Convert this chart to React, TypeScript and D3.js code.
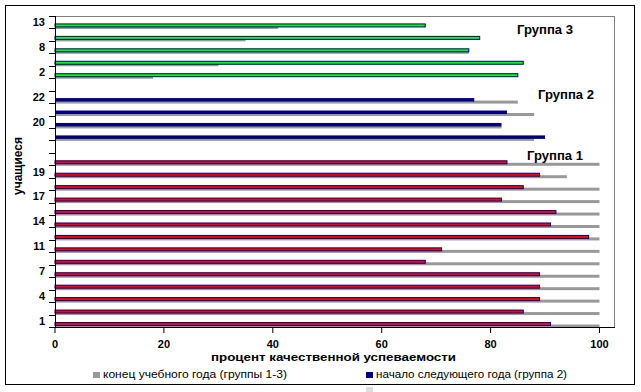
import React from "react";
import * as d3 from "d3";

// values read bottom-to-top inside each group
const group1Students = ["1", "3", "4", "6", "7", "10", "11", "12", "14", "16", "17", "18", "19", "21"];
const group1End = [100, 100, 100, 100, 100, 100, 100, 100, 100, 100, 100, 100, 94, 100];
const group1Next = [91, 86, 89, 89, 89, 68, 71, 98, 91, 92, 82, 86, 89, 83];

const group2Students = ["3", "20", "15", "22"];
const group2End = [88, 82, 88, 85];
const group2Next = [90, 82, 83, 77];

const group3Students = ["2", "5", "8", "10", "13"];
const group3End = [18, 30, 76, 35, 41];
const group3Next = [85, 86, 76, 78, 68];

const groupNames = ["Группа 1", "Группа 2", "Группа 3"];
const xTicks = [0, 20, 40, 60, 80, 100];
const legendLabels = ["конец учебного года (группы 1-3)", "начало следующего года (группа 2)"];

type Row = { label: string; end: number | null; next: number | null; group: number };

const rows: Row[] = [];
const addGroup = (labels: string[], end: number[], next: number[], group: number) => {
  labels.forEach((l, i) => rows.push({ label: l, end: end[i], next: next[i], group }));
};
addGroup(group1Students, group1End, group1Next, 1);
rows.push({ label: "", end: null, next: null, group: 0 });
addGroup(group2Students, group2End, group2Next, 2);
rows.push({ label: "", end: null, next: null, group: 0 });
addGroup(group3Students, group3End, group3Next, 3);

const W = 641;
const H = 392;
const left = 55;
const right = 615;
const top = 16;
const bottom = 327;
const font = "'Liberation Sans', Arial, sans-serif";

const GRAY = "#999999";
const NAVY = "#000080";
const fillFor: Record<number, string> = { 1: "#ff0000", 2: NAVY, 3: "#00ff00" };

export default function App() {
  const x = d3.scaleLinear().domain([0, 100]).range([left, 599.5]);
  const y = d3
    .scaleBand<number>()
    .domain(rows.map((_, i) => i))
    .range([bottom, top]);
  const bw = y.bandwidth();

  return (
    <svg width={W} height={H} style={{ position: "absolute", left: 0, top: 0, background: "#fff" }}>
      <rect x={5.5} y={5.5} width={629} height={379} fill="#fff" stroke="#000" />

      {/* plot frame */}
      <line x1={left} x2={right} y1={top + 0.5} y2={top + 0.5} stroke="#808080" />
      <line x1={right - 0.5} x2={right - 0.5} y1={top} y2={bottom} stroke="#808080" />

      {/* bars */}
      {rows.map((r, i) => {
        if (r.end == null || r.next == null) return null;
        const b = (y(i) as number) + bw;
        const g = r.group;
        return (
          <g key={i}>
            <rect x={left} y={b - 2.5} width={x(r.end) - left} height={3} fill={GRAY} />
            {g === 2 ? (
              <rect x={left} y={b - 5} width={x(r.next) - left} height={3.5} fill={NAVY} />
            ) : (
              <rect
                x={left}
                y={b - 4.5}
                width={x(r.next) - left}
                height={3}
                fill={fillFor[g]}
                stroke={NAVY}
                strokeWidth={1}
              />
            )}
          </g>
        );
      })}

      {/* axes */}
      <line x1={left} x2={right} y1={bottom + 0.5} y2={bottom + 0.5} stroke="#000" />
      <line x1={left + 0.5} x2={left + 0.5} y1={top} y2={bottom + 1} stroke="#000" />
      {xTicks.map((t) => (
        <g key={t}>
          <line x1={x(t)} x2={x(t)} y1={bottom} y2={bottom + 6} stroke="#000" />
          <text
            x={x(t)}
            y={348}
            textAnchor="middle"
            fontFamily={font}
            fontWeight="bold"
            fontSize={11}
          >
            {t}
          </text>
        </g>
      ))}
      {d3.range(rows.length + 1).map((k) => {
        const yy = Math.round(bottom - k * bw) + 0.5;
        return <line key={k} x1={left - 6} x2={left} y1={yy} y2={yy} stroke="#000" />;
      })}
      {rows.map((r, i) =>
        i % 2 === 0 && r.label ? (
          <text
            key={i}
            x={45}
            y={(y(i) as number) + bw / 2 + 4}
            textAnchor="end"
            fontFamily={font}
            fontWeight="bold"
            fontSize={11}
          >
            {r.label}
          </text>
        ) : null
      )}

      {/* titles */}
      <text
        x={211}
        y={361}
        textLength={245}
        lengthAdjust="spacingAndGlyphs"
        fontFamily={font}
        fontWeight="bold"
        fontSize={11.5}
      >
        процент качественной успеваемости
      </text>
      <text
        transform="translate(22,166) rotate(-90)"
        textAnchor="middle"
        fontFamily={font}
        fontWeight="bold"
        fontSize={12}
      >
        учащиеся
      </text>

      {/* group labels */}
      {[
        { name: groupNames[2], gx: 517, gy: 34 },
        { name: groupNames[1], gx: 538, gy: 99 },
        { name: groupNames[0], gx: 527, gy: 160 },
      ].map((d) => (
        <text
          key={d.name}
          x={d.gx}
          y={d.gy}
          textLength={56}
          lengthAdjust="spacingAndGlyphs"
          fontFamily={font}
          fontWeight="bold"
          fontSize={12}
        >
          {d.name}
        </text>
      ))}

      {/* legend */}
      <rect x={93} y={372} width={7} height={6} fill={GRAY} />
      <text x={103} y={378} textLength={184} lengthAdjust="spacingAndGlyphs" fontFamily={font} fontSize={11}>
        {legendLabels[0]}
      </text>
      <rect x={366} y={372} width={7} height={6} fill={NAVY} />
      <text x={376} y={378} textLength={191} lengthAdjust="spacingAndGlyphs" fontFamily={font} fontSize={11}>
        {legendLabels[1]}
      </text>
      <rect x={366} y={387} width={7} height={5} fill="#dddddd" />
    </svg>
  );
}
